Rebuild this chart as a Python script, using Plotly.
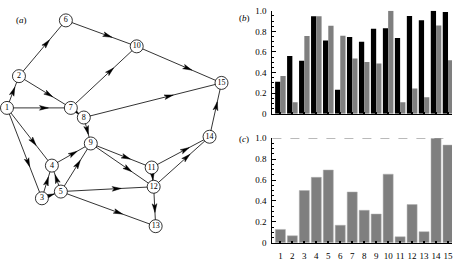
import math
import plotly.graph_objects as go

# ---------------- data ----------------
node_ids = list(range(1, 16))
node_x = [7, 19, 42, 52, 61, 66, 71, 84, 91, 137, 152, 154, 156, 210, 222]
node_y = [107, 74, 201, 167, 194, 16, 107, 117, 144, 43, 169, 189, 230, 137, 81]
edge_from = [1, 2, 6, 10, 2, 1, 7, 7, 8, 8, 1, 1, 4, 5, 3, 5, 3, 5, 5, 9, 9, 11, 11, 12, 12, 14]
edge_to = [2, 6, 10, 15, 7, 7, 10, 8, 15, 9, 4, 3, 9, 9, 4, 4, 5, 12, 13, 11, 12, 12, 14, 14, 13, 15]

categories = list(range(1, 16))
b_black = [0.31, 0.56, 0.515, 0.947, 0.711, 0.233, 0.745, 0.699, 0.826, 0.829, 0.736, 0.95, 0.907, 1.0, 0.988]
b_gray = [0.366, 0.11, 0.755, 0.947, 0.854, 0.758, 0.537, 0.503, 0.488, 1.0, 0.11, 0.245, 0.16, 0.857, 0.52]
c_gray = [0.128, 0.067, 0.50, 0.626, 0.696, 0.168, 0.486, 0.311, 0.275, 0.656, 0.058, 0.366, 0.107, 1.0, 0.934]
y_tickvals = [0, 0.2, 0.4, 0.6, 0.8, 1.0]
y_ticktext = ["0", "0.2", "0.4", "0.6", "0.8", "1.0"]

W, H = 457, 261
FONT = "Liberation Serif"
GRAY = "#7f7f7f"

fig = go.Figure()

# ---------------- panel (a): network ----------------
pos = {n: (x, y) for n, x, y in zip(node_ids, node_x, node_y)}
lx, ly = [], []
ax_, ay_ = [], []
TIP = 0.65
L, HW, NOTCH = 9.0, 2.4, 2.0
for a, b in zip(edge_from, edge_to):
    x0, y0 = pos[a]
    x1, y1 = pos[b]
    lx += [x0, x1, None]
    ly += [y0, y1, None]
    dx, dy = x1 - x0, y1 - y0
    d = math.hypot(dx, dy)
    ux, uy = dx / d, dy / d
    px, py = -uy, ux
    tx, ty = x0 + TIP * dx, y0 + TIP * dy
    bx, by = tx - L * ux, ty - L * uy
    nx, ny = tx - (L - NOTCH) * ux, ty - (L - NOTCH) * uy
    ax_ += [tx, bx + HW * px, nx, bx - HW * px, tx, None]
    ay_ += [ty, by + HW * py, ny, by - HW * py, ty, None]

fig.add_trace(go.Scatter(x=lx, y=ly, mode="lines", line=dict(color="black", width=0.8),
                         xaxis="x", yaxis="y", hoverinfo="skip", showlegend=False))
fig.add_trace(go.Scatter(x=ax_, y=ay_, mode="lines", fill="toself", fillcolor="black",
                         line=dict(color="black", width=0.5),
                         xaxis="x", yaxis="y", hoverinfo="skip", showlegend=False))
fig.add_trace(go.Scatter(x=node_x, y=node_y, mode="markers+text",
                         text=[str(n) for n in node_ids], textposition="middle center",
                         textfont=dict(family=FONT, size=8, color="black"),
                         marker=dict(size=13, color="white", line=dict(color="black", width=0.8)),
                         xaxis="x", yaxis="y", hoverinfo="skip", showlegend=False))

# ---------------- panel (b) ----------------
fig.add_trace(go.Bar(x=categories, y=b_black, width=0.44, offset=-0.44, marker=dict(color="black", line=dict(width=0)),
                     xaxis="x2", yaxis="y2", showlegend=False))
fig.add_trace(go.Bar(x=categories, y=b_gray, width=0.44, offset=0.0, marker=dict(color=GRAY, line=dict(width=0)),
                     xaxis="x2", yaxis="y2", showlegend=False))

# ---------------- panel (c) ----------------
fig.add_trace(go.Bar(x=categories, y=c_gray, width=0.84, offset=-0.42,
                     marker=dict(color=GRAY, line=dict(color="#b0b0b0", width=0.5)),
                     xaxis="x3", yaxis="y3", showlegend=False))

px0, px1 = 273 / W, 453 / W
common_x = dict(range=[0.333, 15.333], showgrid=False, zeroline=False, showline=True,
                linecolor="black", linewidth=1, tickvals=categories, ticks="inside",
                ticklen=2, tickwidth=2, tickcolor="black",
                tickfont=dict(family=FONT, size=9, color="black"), ticklabelstandoff=4)
common_y = dict(range=[0, 1], showgrid=False, zeroline=False, showline=True,
                linecolor="black", linewidth=1, tickvals=y_tickvals, ticktext=y_ticktext,
                ticks="inside", ticklen=4, tickwidth=0.8, tickcolor="black",
                minor=dict(dtick=0.05, ticks="inside", ticklen=2, tickwidth=0.6, tickcolor="black"),
                tickfont=dict(family=FONT, size=9, color="black"), ticklabelstandoff=3)

fig.update_layout(
    width=W, height=H, margin=dict(l=0, r=0, t=0, b=0),
    paper_bgcolor="white", plot_bgcolor="white", barmode="overlay",
    font=dict(family=FONT, size=9, color="black"),
    xaxis=dict(domain=[0, 230 / W], range=[0, 230], visible=False),
    yaxis=dict(domain=[0, 1], range=[261, 0], visible=False),
    xaxis2=dict(domain=[px0, px1], anchor="y2", showticklabels=False, **common_x),
    yaxis2=dict(domain=[1 - 113 / H, 1 - 6 / H], anchor="x2", **common_y),
    xaxis3=dict(domain=[px0, px1], anchor="y3", showticklabels=True, **common_x),
    yaxis3=dict(domain=[1 - 247.3 / H, 1 - 138.5 / H], anchor="x3", **common_y),
    shapes=[dict(type="line", xref="x3 domain", x0=0, x1=1, yref="y3", y0=1, y1=1,
                 line=dict(color="#555555", width=0.8, dash="dash"))],
    annotations=[
        dict(text="(<i>a</i>)", x=14 / W, y=1 - 8 / H, xref="paper", yref="paper",
             showarrow=False, font=dict(family=FONT, size=9)),
        dict(text="(<i>b</i>)", x=245 / W, y=1 - 6 / H, xref="paper", yref="paper",
             showarrow=False, font=dict(family=FONT, size=9)),
        dict(text="(<i>c</i>)", x=245 / W, y=1 - 139 / H, xref="paper", yref="paper",
             showarrow=False, font=dict(family=FONT, size=9)),
    ],
)

fig.write_html("out.html", config={"displayModeBar": False},
               post_script="document.body.style.margin='0';document.body.style.padding='0';")
